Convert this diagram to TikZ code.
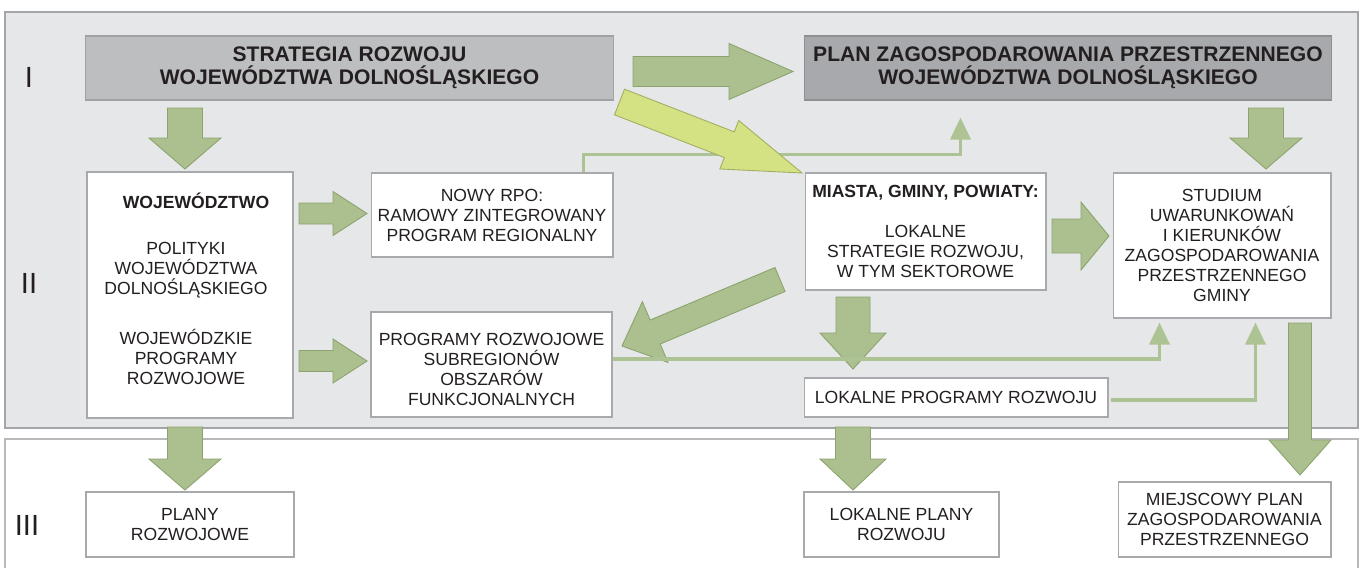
\documentclass[tikz,border=0pt]{standalone}
\usepackage{fontspec}
\setmainfont{Liberation Sans}
\usetikzlibrary{calc,arrows.meta}
\definecolor{panelf}{HTML}{E6E7E8}
\definecolor{panelb}{HTML}{A3A5A8}
\definecolor{lowb}{HTML}{B8B9BB}
\definecolor{boxb}{HTML}{A7A9AC}
\definecolor{stratf}{HTML}{BCBEC0}
\definecolor{stratb}{HTML}{A0A2A5}
\definecolor{planf}{HTML}{A7A9AC}
\definecolor{planb}{HTML}{8E9093}
\definecolor{agreen}{HTML}{ABBF8F}
\definecolor{agreenb}{HTML}{8CA36E}
\definecolor{lgreen}{HTML}{AEC393}
\definecolor{ayellow}{HTML}{D4E283}
\definecolor{ayellowb}{HTML}{A2AE62}
\definecolor{textc}{HTML}{231F20}

% #1 style, #2 tail coordinate, #3 tip coordinate,
% #4 shaft half width, #5 head half width, #6 head length (in px)
\newcommand\blockarrow[6]{%
  \filldraw[#1] ($(#2)!{#4*0.02cm}!90:(#3)$)
    -- ($(#3)!{#6*0.02cm}!(#2)!{#4*0.02cm}!-90:(#2)$)
    -- ($(#3)!{#6*0.02cm}!(#2)!{#5*0.02cm}!-90:(#2)$)
    -- (#3)
    -- ($(#3)!{#6*0.02cm}!(#2)!{#5*0.02cm}!90:(#2)$)
    -- ($(#3)!{#6*0.02cm}!(#2)!{#4*0.02cm}!90:(#2)$)
    -- ($(#2)!{#4*0.02cm}!-90:(#3)$) -- cycle;}

\begin{document}
\begin{tikzpicture}[x=0.02cm,y=-0.02cm,
  txt/.style={font=\fontsize{10}{11.4}\selectfont, text=textc, align=center},
  box/.style={txt, draw=boxb, fill=white, line width=0.6pt, inner sep=0pt},
  titlebox/.style={box, font=\fontsize{12}{13.1}\selectfont\bfseries},
  roman/.style={font=\fontsize{16.6}{18}\selectfont, text=textc, inner sep=0pt},
  garrow/.style={fill=agreen, draw=agreenb, line width=0.5pt, line join=miter},
  yarrow/.style={fill=ayellow, draw=ayellowb, line width=0.5pt, line join=miter},
  tline/.style={draw=lgreen, line width=2pt, line join=miter,
    -{Triangle[width=0.4cm,length=0.44cm]}}]
\useasboundingbox (0,0) rectangle (1360,568);

% panels
\filldraw[fill=panelf, draw=panelb, line width=0.7pt] (5,12) rectangle (1358,428);
\filldraw[fill=white, draw=lowb, line width=0.7pt] (5,439) rectangle (1358,580);

% level numerals
\node[roman] (rI) at (29,77) {I};
\node[roman] (rII) at (29,283) {II};
\node[roman] (rIII) at (27,525) {III};

% level I
\node[titlebox, fill=stratf, draw=stratb, minimum width=10.58cm, minimum height=1.28cm]
  (strat) at (349.5,68) {STRATEGIA ROZWOJU\\WOJEWÓDZTWA DOLNOŚLĄSKIEGO};
\node[titlebox, fill=planf, draw=planb, minimum width=10.56cm, minimum height=1.28cm]
  (plan) at (1068,68) {PLAN ZAGOSPODAROWANIA PRZESTRZENNEGO\\WOJEWÓDZTWA DOLNOŚLĄSKIEGO};

% level II
\node[box, minimum width=4.12cm, minimum height=4.92cm,
  label={[txt, name=wt, xshift=-0.08cm, yshift=0.13cm]center:{\hspace*{0.4cm}\textbf{WOJEWÓDZTWO}\\[0.52cm]POLITYKI\\WOJEWÓDZTWA\\DOLNOŚLĄSKIEGO\\[0.6cm]WOJEWÓDZKIE\\PROGRAMY\\ROZWOJOWE}}]
  (woj) at (190,295) {};
\node[box, minimum width=4.84cm, minimum height=1.68cm]
  (nowy) at (492,215) {NOWY RPO:\\RAMOWY ZINTEGROWANY\\PROGRAM REGIONALNY};
\node[box, minimum width=4.82cm, minimum height=2.1cm,
  label={[txt, name=pt, yshift=-0.1cm]center:{PROGRAMY ROZWOJOWE\\SUBREGIONÓW\\OBSZARÓW\\FUNKCJONALNYCH}}]
  (prog) at (491.5,364.5) {};
\node[box, minimum width=4.82cm, minimum height=2.34cm]
  (miasta) at (925.5,231.5) {\textbf{MIASTA, GMINY, POWIATY:}\\[0.4cm]LOKALNE\\STRATEGIE ROZWOJU,\\W TYM SEKTOROWE};
\node[box, minimum width=4.36cm, minimum height=2.9cm]
  (studium) at (1222,245.5) {STUDIUM\\UWARUNKOWAŃ\\I KIERUNKÓW\\ZAGOSPODAROWANIA\\PRZESTRZENNEGO\\GMINY};
\node[box, minimum width=6.08cm, minimum height=0.78cm]
  (lokprog) at (956,397.5) {LOKALNE PROGRAMY ROZWOJU};

% level III
\node[box, minimum width=4.16cm, minimum height=1.3cm]
  (plany) at (190,524.5) {PLANY\\ROZWOJOWE};
\node[box, minimum width=3.9cm, minimum height=1.3cm]
  (lokplany) at (901.5,524.5) {LOKALNE PLANY\\ROZWOJU};
\node[box, minimum width=4.26cm, minimum height=1.5cm]
  (miejsc) at (1224.5,519.5) {MIEJSCOWY PLAN\\ZAGOSPODAROWANIA\\PRZESTRZENNEGO};

% arrow end points
\coordinate (aIs) at (633,71.5);   \coordinate (aIe) at (793,71.5);
\coordinate (sws) at (185,108);    \coordinate (swe) at (185,169);
\coordinate (pss) at (1266,108);   \coordinate (pse) at (1266,169);
\coordinate (wns) at (299,213.5);  \coordinate (wne) at (367,213.5);
\coordinate (wps) at (299,361);    \coordinate (wpe) at (367,361);
\coordinate (mps) at (780,279.5);  \coordinate (mpe) at (622,346);
\coordinate (mss) at (1052,236);   \coordinate (mse) at (1109,236);
\coordinate (mls) at (853,297);    \coordinate (mle) at (853,369);
\coordinate (lls) at (853,427);    \coordinate (lle) at (853,490);
\coordinate (wls) at (185,427);    \coordinate (wle) at (185,490);
\coordinate (sms) at (1300,323);   \coordinate (sme) at (1300,475);
\coordinate (ys) at (619.5,102);   \coordinate (ye) at (802,173);

% block arrows
\blockarrow{garrow}{aIs}{aIe}{15}{28}{64}
\blockarrow{garrow}{sws}{swe}{17.5}{36}{31}
\blockarrow{garrow}{pss}{pse}{17.5}{36}{31}
\blockarrow{garrow}{wns}{wne}{10.5}{22}{34}
\blockarrow{garrow}{wps}{wpe}{10.5}{22}{34}
\blockarrow{garrow}{mps}{mpe}{13}{33}{36}
\blockarrow{garrow}{mss}{mse}{17}{34}{28}
\blockarrow{garrow}{mls}{mle}{17}{33}{36}
\blockarrow{garrow}{lls}{lle}{17.5}{33}{31}
\blockarrow{garrow}{wls}{wle}{17.5}{36}{31}
\blockarrow{garrow}{sms}{sme}{11.5}{31}{35}

% thin connectors
\coordinate (t1) at ($(plan.south west)+(157,17)$);
\coordinate (t2) at ($(studium.south west)+(47,4)$);
\coordinate (t3) at ($(studium.south west)+(143,4)$);
\draw[tline] ($(nowy.north east)+(-30,0)$) -- ++(0,-18) -| (t1);
\draw[tline] ($(prog.east)+(0,-5.5)$) -| (t2);
\draw[tline] ($(lokprog.east)+(2,2.5)$) -| (t3);

% yellow arrow on top
\blockarrow{yarrow}{ys}{ye}{13.75}{26}{78}
\end{tikzpicture}
\end{document}
